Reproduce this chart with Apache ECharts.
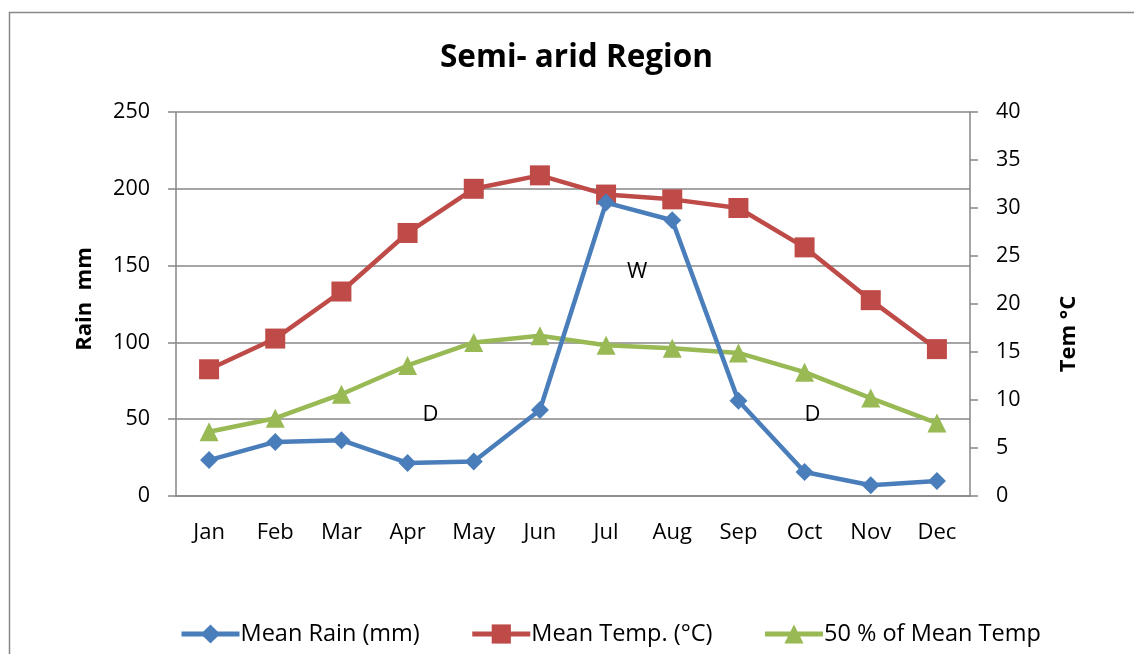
<!DOCTYPE html>
<html>
<head>
<meta charset="utf-8">
<script src="https://cdn.jsdelivr.net/npm/echarts@6/dist/echarts.min.js"></script>
<style>
    html, body { margin: 0; padding: 0; background: #fff; }
    #chart { width: 1134px; height: 654px; }
</style>
</head>
<body>
<div id="chart"></div>
<script>
// data
const months = ['Jan', 'Feb', 'Mar', 'Apr', 'May', 'Jun', 'Jul', 'Aug', 'Sep', 'Oct', 'Nov', 'Dec'];
const meanRain = [23.4, 35.2, 36.3, 21.5, 22.5, 56, 191, 179.5, 62, 15.6, 7, 9.8];
const meanTemp = [13.2, 16.4, 21.3, 27.4, 32.0, 33.4, 31.4, 30.9, 30.0, 25.9, 20.4, 15.3];
const halfTemp = [6.7, 8.1, 10.6, 13.6, 16.0, 16.7, 15.7, 15.4, 14.9, 12.9, 10.2, 7.6];
const rainTicks = [0, 250, 50];
const tempTicks = [0, 40, 5];
// season notes: [label, month, rain value, nudge right]
const notes = [['W', 'Jul', 146, 31], ['D', 'Apr', 53, 23], ['D', 'Oct', 53, 8]];

const font = '"Open Sans", "Noto Sans", sans-serif';
const grey = '#878787';

const chart = echarts.init(document.getElementById('chart'));
chart.setOption({
    animation: false,
    backgroundColor: '#fff',
    textStyle: { fontFamily: font, color: '#000' },
    title: {
        text: 'Semi- arid Region',
        left: 435,
        top: 37,
        textStyle: { fontSize: 31.5, fontWeight: 'bold', color: '#000', fontFamily: font }
    },
    graphic: [{
        type: 'rect',
        shape: { x: 9.5, y: 12.5, width: 1140, height: 660 },
        style: { fill: 'none', stroke: grey, lineWidth: 1.5 },
        silent: true
    }],
    legend: {
        bottom: 3,
        left: 174,
        itemGap: 50,
        itemWidth: 58,
        itemHeight: 24,
        lineStyle: { width: 5 },
        textStyle: { fontSize: 23.5, color: '#000', fontFamily: font, padding: [0, 0, 0, -4] },
        data: ['Mean Rain (mm)', 'Mean Temp. (°C)', '50 % of Mean Temp']
    },
    grid: { left: 176, right: 164, top: 112, bottom: 158 },
    xAxis: {
        type: 'category',
        data: months,
        boundaryGap: true,
        axisLine: { lineStyle: { color: grey, width: 1.5 } },
        axisTick: { show: false },
        axisLabel: { fontSize: 22, color: '#000', margin: 26, fontFamily: font }
    },
    yAxis: [{
        type: 'value',
        min: rainTicks[0],
        max: rainTicks[1],
        interval: rainTicks[2],
        name: 'Rain  mm',
        nameLocation: 'middle',
        nameGap: 80,
        nameTextStyle: { fontSize: 22, fontWeight: 'bold', color: '#000', fontFamily: font, padding: [0, 0, 0, 10] },
        axisLine: { show: true, lineStyle: { color: grey, width: 1.5 } },
        axisTick: { show: true, length: 8, lineStyle: { color: grey, width: 1.5 } },
        axisLabel: { fontSize: 21.5, color: '#000', margin: 26, fontFamily: font },
        splitLine: { show: true, lineStyle: { color: grey, width: 1.5 } }
    }, {
        type: 'value',
        min: tempTicks[0],
        max: tempTicks[1],
        interval: tempTicks[2],
        name: 'Tem °C',
        nameLocation: 'middle',
        nameGap: 88,
        nameRotate: 90,
        nameTextStyle: { fontSize: 22, fontWeight: 'bold', color: '#000', fontFamily: font, padding: [0, 60, 0, 0] },
        axisLine: { show: true, lineStyle: { color: grey, width: 1.5 } },
        axisTick: { show: true, length: 8, lineStyle: { color: grey, width: 1.5 } },
        axisLabel: { fontSize: 21.5, color: '#000', margin: 26, fontFamily: font },
        splitLine: { show: false }
    }],
    series: [{
        name: 'Mean Rain (mm)',
        type: 'line',
        yAxisIndex: 0,
        data: meanRain,
        symbol: 'diamond',
        symbolSize: 18,
        color: '#4A7EBB',
        lineStyle: { width: 4.5, color: '#4A7EBB' },
        z: 4,
        markPoint: {
            symbol: 'circle',
            symbolSize: 1,
            itemStyle: { color: 'rgba(0,0,0,0)' },
            label: {
                show: true,
                position: 'inside',
                fontSize: 22,
                color: '#000',
                fontFamily: font,
                formatter: (p) => p.name
            },
            data: notes.map(n => ({ name: n[0], coord: [n[1], n[2]], label: { offset: [n[3], 0] } }))
        }
    }, {
        name: 'Mean Temp. (°C)',
        type: 'line',
        yAxisIndex: 1,
        data: meanTemp,
        symbol: 'rect',
        symbolSize: 20,
        color: '#BE4B48',
        lineStyle: { width: 4.5, color: '#BE4B48' },
        z: 3
    }, {
        name: '50 % of Mean Temp',
        type: 'line',
        yAxisIndex: 1,
        data: halfTemp,
        symbol: 'triangle',
        symbolSize: 19,
        color: '#98B954',
        lineStyle: { width: 4.5, color: '#98B954' },
        z: 2
    }]
});
</script>
</body>
</html>
